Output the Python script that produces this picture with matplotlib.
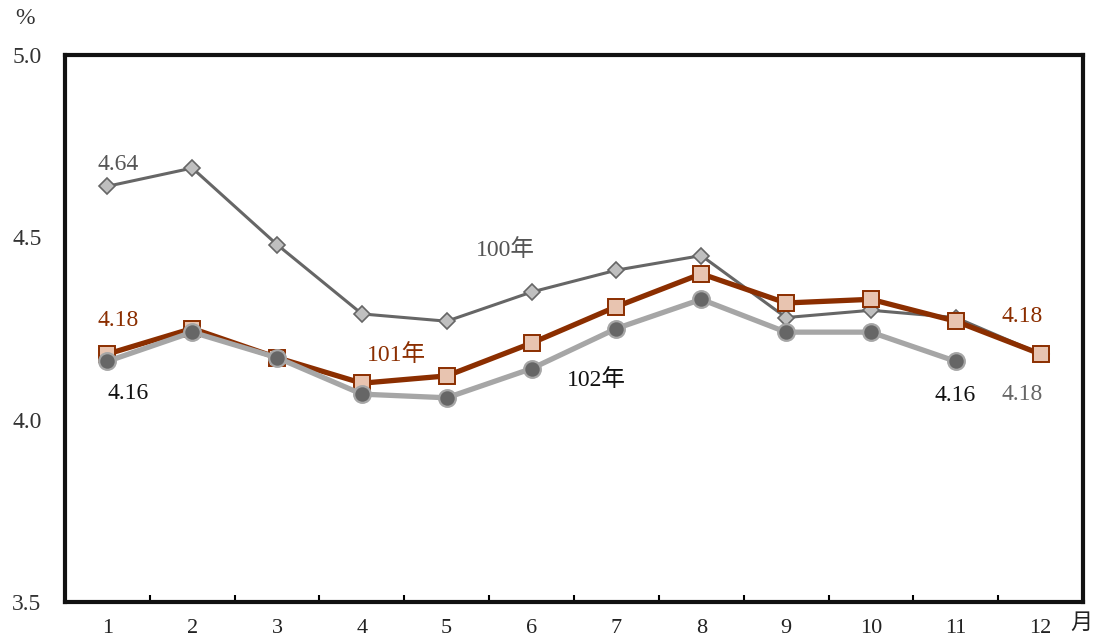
import matplotlib
matplotlib.use("Agg")
import matplotlib.pyplot as plt

months = ["1", "2", "3", "4", "5", "6", "7", "8", "9", "10", "11", "12"]
y100 = [4.64, 4.69, 4.48, 4.29, 4.27, 4.35, 4.41, 4.45, 4.28, 4.30, 4.28, 4.18]
y101 = [4.18, 4.25, 4.17, 4.10, 4.12, 4.21, 4.31, 4.40, 4.32, 4.33, 4.27, 4.18]
y102 = [4.16, 4.24, 4.17, 4.07, 4.06, 4.14, 4.25, 4.33, 4.24, 4.24, 4.16]
yticks = [3.5, 4.0, 4.5, 5.0]
ytick_labels = ["3.5", "4.0", "4.5", "5.0"]

FONT = ["Liberation Serif", "Noto Sans CJK TC", "DejaVu Serif"]
plt.rcParams["font.family"] = FONT

fig = plt.figure(figsize=(10.96, 6.38), dpi=100)
ax = fig.add_axes([65 / 1096, 1 - 602 / 638, (1083 - 65) / 1096, (602 - 55) / 638])

x100 = list(range(1, len(y100) + 1))
x101 = list(range(1, len(y101) + 1))
x102 = list(range(1, len(y102) + 1))

ax.plot(x100, y100, color="#666666", lw=2.2, marker="D", ms=8,
        mfc="#BFBFBF", mec="#666666", mew=1.2, zorder=3)
ax.plot(x101, y101, color="#8B2E00", lw=3.8, marker="s", ms=11,
        mfc="#E8C4B0", mec="#8B2E00", mew=1.4, zorder=4)
ax.plot(x102, y102, color="#A6A6A6", lw=3.8, marker="o", ms=12,
        mfc="#666666", mec="#A6A6A6", mew=1.6, zorder=5)

ax.set_xlim(0.5, 12.5)
ax.set_ylim(3.5, 5.0)
ax.set_yticks(yticks)
ax.set_yticklabels(ytick_labels, fontsize=17, color="#333333")
ax.tick_params(axis="y", length=0, pad=17)
ax.set_xticks(x100)
ax.set_xticklabels(months, fontsize=16, color="#222222")
ax.tick_params(axis="x", which="major", length=0, pad=12)
ax.set_xticks([i + 0.5 for i in range(1, 12)], minor=True)
ax.tick_params(axis="x", which="minor", direction="in", length=5, width=1.5, color="black")
for s in ax.spines.values():
    s.set_linewidth(3)
    s.set_color("#111111")

fs = 17
ax.text(1.13, 4.70, f"{y100[0]:.2f}", color="#555555", fontsize=fs, ha="center", va="center")
ax.text(1.13, 4.273, f"{y101[0]:.2f}", color="#8B2E00", fontsize=fs, ha="center", va="center")
ax.text(1.25, 4.073, f"{y102[0]:.2f}", color="#111111", fontsize=fs, ha="center", va="center")
ax.text(11.78, 4.282, f"{y101[-1]:.2f}", color="#8B2E00", fontsize=fs, ha="center", va="center")
ax.text(10.99, 4.065, f"{y102[-1]:.2f}", color="#111111", fontsize=fs, ha="center", va="center")
ax.text(11.78, 4.07, f"{y100[-1]:.2f}", color="#666666", fontsize=fs, ha="center", va="center")

ax.text(5.69, 4.465, "100年", color="#555555", fontsize=fs, ha="center", va="center")
ax.text(4.41, 4.177, "101年", color="#8B2E00", fontsize=fs, ha="center", va="center")
ax.text(6.76, 4.109, "102年", color="#111111", fontsize=fs, ha="center", va="center")

fig.text(25 / 1096, 1 - 18 / 638, "%", fontsize=17, color="#333333", ha="center", va="center")
fig.text(1081 / 1096, 1 - 624 / 638, "月", fontsize=16, color="#222222", ha="center", va="center")

fig.savefig("out.png", dpi=100)
